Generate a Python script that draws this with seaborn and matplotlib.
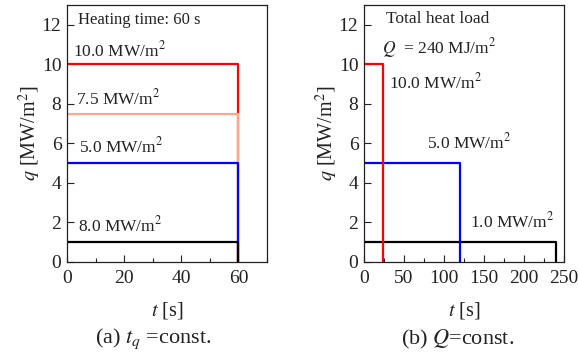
import matplotlib
matplotlib.use("Agg")
import matplotlib.pyplot as plt
import seaborn as sns
import pandas as pd
from matplotlib.ticker import MultipleLocator

# ---- data ----
a_fluxes = [10.0, 7.5, 5.0, 1.0]          # MW/m2
a_times = [60, 60, 60, 60]                # s
a_colors = ["#ff0000", "#ffa98a", "#0000ff", "#000000"]
a_labels = ["10.0 MW/m$^2$", "7.5 MW/m$^2$", "5.0 MW/m$^2$", "8.0 MW/m$^2$"]

b_fluxes = [1.0, 5.0, 10.0]
b_times = [240, 120, 24]
b_colors = ["#000000", "#0000ff", "#ff0000"]
b_labels = ["1.0 MW/m$^2$", "5.0 MW/m$^2$", "10.0 MW/m$^2$"]

sns.set_theme(style="white")
plt.rcParams["font.family"] = ["Liberation Serif", "DejaVu Serif"]
plt.rcParams["mathtext.fontset"] = "stix"
plt.rcParams["font.size"] = 11

def step_df(q, T):
    return pd.DataFrame({"t": [0, T, T], "q": [q, q, 0]})

fig = plt.figure(figsize=(5.78, 3.52), dpi=100)
W, H = 578, 352
axA = fig.add_axes([67/W, 1-262/H, 200/W, 257/H])
axB = fig.add_axes([364/W, 1-262/H, 200/W, 257/H])

for q, T, c in zip(a_fluxes, a_times, a_colors):
    sns.lineplot(data=step_df(q, T), x="t", y="q", sort=False, estimator=None,
                 color=c, lw=1.6, ax=axA)
for q, T, c in zip(b_fluxes, b_times, b_colors):
    sns.lineplot(data=step_df(q, T), x="t", y="q", sort=False, estimator=None,
                 color=c, lw=1.6, ax=axB)

TXT = "#222222"
for ax, xmax, maj, mnr in [(axA, 70, 20, 10), (axB, 250, 50, 25)]:
    ax.set_xlim(0, xmax)
    ax.set_ylim(0, 13)
    ax.xaxis.set_major_locator(MultipleLocator(maj))
    ax.xaxis.set_minor_locator(MultipleLocator(mnr))
    ax.yaxis.set_major_locator(MultipleLocator(2))
    ax.tick_params(axis="both", which="both", direction="in", labelsize=14,
                   left=True, bottom=True, top=False, right=False, colors=TXT)
    ax.tick_params(which="major", length=5, width=0.8)
    ax.tick_params(which="minor", length=3, width=0.8)
    ax.tick_params(axis="x", pad=6)
    ax.tick_params(axis="y", pad=4)
    for s in ax.spines.values():
        s.set_color(TXT)
        s.set_linewidth(0.9)
    ax.set_xlabel("$t$ [s]", fontsize=14.5, color=TXT, labelpad=9)
    ax.set_ylabel("$q$ [MW/m$^2$]", fontsize=14.5, color=TXT, labelpad=-1)
    ax.grid(False)

axA.set_xticks([0, 20, 40, 60])
axA.text(3.7, 12.25, "Heating time: 60 s", fontsize=12, va="center", color=TXT)
a_pos = [(2, 10.7), (3.0, 8.3), (4.2, 5.85), (3.8, 1.85)]
for (x, y), lab in zip(a_pos, a_labels):
    axA.text(x, y, lab, fontsize=12.5, va="center", color=TXT)

axB.text(27, 12.3, "Total heat load", fontsize=12.5, va="center", color=TXT)
axB.text(22, 10.85, "$Q$  = 240 MJ/m$^2$", fontsize=12.5, va="center", color=TXT)
b_pos = [(133, 2.05), (79, 6.05), (31, 9.1)]
for (x, y), lab in zip(b_pos, b_labels):
    axB.text(x, y, lab, fontsize=12.5, va="center", color=TXT)

fig.text(153/W, 1-339/H, "(a) $t_q$ =const.", fontsize=16, ha="center", va="center", color=TXT)
fig.text(458/W, 1-339/H, "(b) $Q$=const.", fontsize=16, ha="center", va="center", color=TXT)

fig.savefig("out.png", dpi=100)
